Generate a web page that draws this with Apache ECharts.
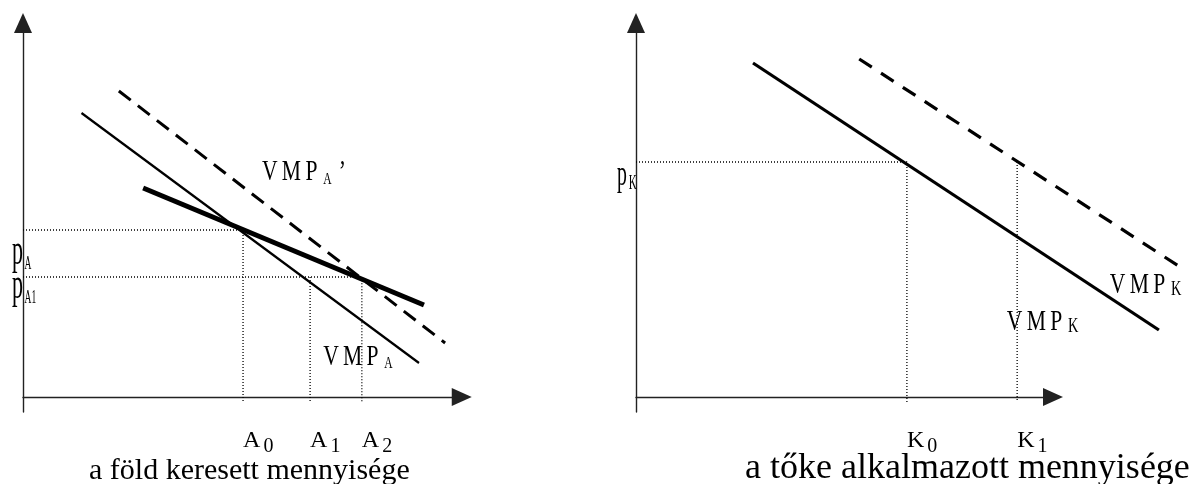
<!DOCTYPE html>
<html>
<head>
<meta charset="utf-8">
<script src="https://cdn.jsdelivr.net/npm/echarts@6/dist/echarts.min.js"></script>
<style>
  html, body { margin: 0; background: #fff; }
  #chart { width: 1192px; height: 484px; }
</style>
</head>
<body>
<div id="chart"></div>
<script>
// left panel: demand for land (x = quantity, y = price)
var vmpA = [[13, 71], [88, 8.5]];
var vmpAThick = [[26.7, 52.25], [89.1, 23]];
var vmpAShift = [[21.3, 76.5], [93.8, 13.5]];
var priceA = [41.75, 30];
var qtyA = [48.9, 63.8, 75.3];
var qtyALabels = [["A", "0"], ["A", "1"], ["A", "2"]];
var priceALabels = [["p", "A"], ["p", "A1"]];
var curveALabels = [["VMP", "A", "’"], ["VMP", "A", ""]];

// right panel: capital
var vmpK = [[26, 83.5], [116.2, 16.75]];
var vmpKShift = [[49.6, 84.5], [121.6, 32]];
var priceK = [58.75];
var qtyK = [60.2, 84.7];
var qtyKLabels = [["K", "0"], ["K", "1"]];
var priceKLabels = [["p", "K"]];
var curveKLabels = [["VMP", "K", ""], ["VMP", "K", ""]];

var captionLeft = "a föld keresett mennyisége";
var captionRight = "a tőke alkalmazott mennyisége";

var FONT = "'Liberation Serif', 'Times New Roman', serif";
var chart = echarts.init(document.getElementById("chart"));

// main text letter by letter (so it can be spaced), then subscript, then suffix
function rich(parts, spaced) {
  var main = spaced
    ? parts[0].split("").map(function (c) { return "{m|" + c + "}"; }).join("")
    : "{m|" + parts[0] + "}";
  return main + "{s|" + parts[1] + "}" + (parts[2] ? "{q|" + parts[2] + "}" : "");
}

function lineSeries(idx, pts, width, type) {
  return {
    type: "line", xAxisIndex: idx, yAxisIndex: idx, data: pts,
    symbol: "none", clip: false, silent: true,
    lineStyle: { color: "#000", width: width, type: type || "solid", cap: "butt" }
  };
}

function textSeries(idx, anchors, items, o) {
  return {
    type: "custom", xAxisIndex: idx, yAxisIndex: idx, silent: true,
    data: anchors.map(function (a, i) { return [a[0], a[1], i]; }),
    renderItem: function (params, api) {
      var p = api.coord([api.value(0), api.value(1)]);
      var it = items[api.value(2)];
      return {
        type: "text", x: p[0], y: p[1], scaleX: o.sx || 1,
        style: {
          text: rich(it, o.gap > 0), fill: "#000", align: "left", verticalAlign: "middle",
          rich: {
            m: { fontFamily: FONT, fontSize: o.m, lineHeight: o.m, fill: "#000", padding: [0, o.gap || 0, 0, 0] },
            s: { fontFamily: FONT, fontSize: o.s, lineHeight: o.sl, verticalAlign: "bottom", fill: "#000",
                 padding: [0, 0, 0, o.sp || 0] },
            q: { fontFamily: FONT, fontSize: o.m, lineHeight: o.m, fill: "#000", padding: [0, 0, 0, 10] }
          }
        }
      };
    }
  };
}

function tickLabel(values, names) {
  return {
    customValues: values, align: "left", margin: 17,
    formatter: function (v) {
      var i = values.indexOf(v);
      return i < 0 ? "" : rich(names[i], false);
    },
    rich: {
      m: { fontFamily: FONT, fontSize: 24, lineHeight: 24, color: "#000" },
      s: { fontFamily: FONT, fontSize: 20, lineHeight: 6, color: "#000", padding: [12, 0, 0, 3] }
    }
  };
}

var axisLine = {
  show: true, onZero: true, symbol: ["none", "triangle"], symbolSize: [18, 20],
  lineStyle: { color: "#222", width: 1.4 }
};
var hidden = { show: false };
var dotted = [1, 2];

var option = {
  animation: false,
  backgroundColor: "#fff",
  title: [
    { text: captionLeft, left: 84, top: 451, textStyle: { fontFamily: FONT, fontSize: 30, fontWeight: "normal", color: "#000" } },
    { text: captionRight, left: 740, top: 446, textStyle: { fontFamily: FONT, fontSize: 36, fontWeight: "normal", color: "#000" } }
  ],
  grid: [
    { left: 23, top: 23, width: 438.75, height: 389 },
    { left: 636, top: 23, width: 417, height: 389 },
    { left: 636, top: 23, width: 554, height: 389 }
  ],
  xAxis: [
    { gridIndex: 0, type: "value", min: 0, max: 97.5, axisLine: axisLine, axisTick: hidden,
      splitLine: hidden, axisLabel: tickLabel(qtyA, qtyALabels) },
    { gridIndex: 1, type: "value", min: 0, max: 92.667, axisLine: axisLine, axisTick: hidden,
      splitLine: hidden, axisLabel: tickLabel(qtyK, qtyKLabels) },
    { gridIndex: 2, type: "value", min: 0, max: 123.111, show: false }
  ],
  yAxis: [
    { gridIndex: 0, type: "value", min: -3.75, max: 93.5, axisLine: axisLine, axisTick: hidden,
      splitLine: hidden, axisLabel: hidden },
    { gridIndex: 1, type: "value", min: -3.75, max: 93.5, axisLine: axisLine, axisTick: hidden,
      splitLine: hidden, axisLabel: hidden },
    { gridIndex: 2, type: "value", min: -3.75, max: 93.5, show: false }
  ],
  series: [
    // guide lines, left
    lineSeries(0, [[0, priceA[0]], [qtyA[0], priceA[0]], [qtyA[0], -1.25]], 1.3, dotted),
    lineSeries(0, [[0, priceA[1]], [qtyA[2], priceA[1]], [qtyA[2], -1.25]], 1.3, dotted),
    lineSeries(0, [[qtyA[1], priceA[1]], [qtyA[1], -1.25]], 1.3, dotted),
    // curves, left
    lineSeries(0, vmpA, 2.2),
    lineSeries(0, vmpAShift, 3, [15, 9]),
    lineSeries(0, vmpAThick, 5),
    // guide lines, right
    lineSeries(2, [[0, priceK[0]], [qtyK[0], priceK[0]], [qtyK[0], -1.25]], 1.3, dotted),
    lineSeries(2, [[qtyK[1], priceK[0]], [qtyK[1], -1.25]], 1.3, dotted),
    // curves, right
    lineSeries(2, vmpK, 3.2),
    lineSeries(2, vmpKShift, 3.2, [15, 11]),
    // labels
    textSeries(0, [[53.1, 56.1], [66.7, 10]], curveALabels, { m: 30, s: 16, sl: 2, sx: 0.72, gap: 6, sp: 2 }),
    textSeries(0, [[-2.44, 36.25], [-2.44, 27.75]], priceALabels, { m: 44, s: 19, sl: 8, sx: 0.5, sp: 3 }),
    textSeries(2, [[105.3, 28], [82.4, 18.75]], curveKLabels, { m: 30, s: 20, sl: 6, sx: 0.72, gap: 6, sp: 2 }),
    textSeries(2, [[-4.2, 55.25]], priceKLabels, { m: 36, s: 20, sl: 8, sx: 0.55, sp: 3 })
  ]
};

chart.setOption(option);
</script>
</body>
</html>
